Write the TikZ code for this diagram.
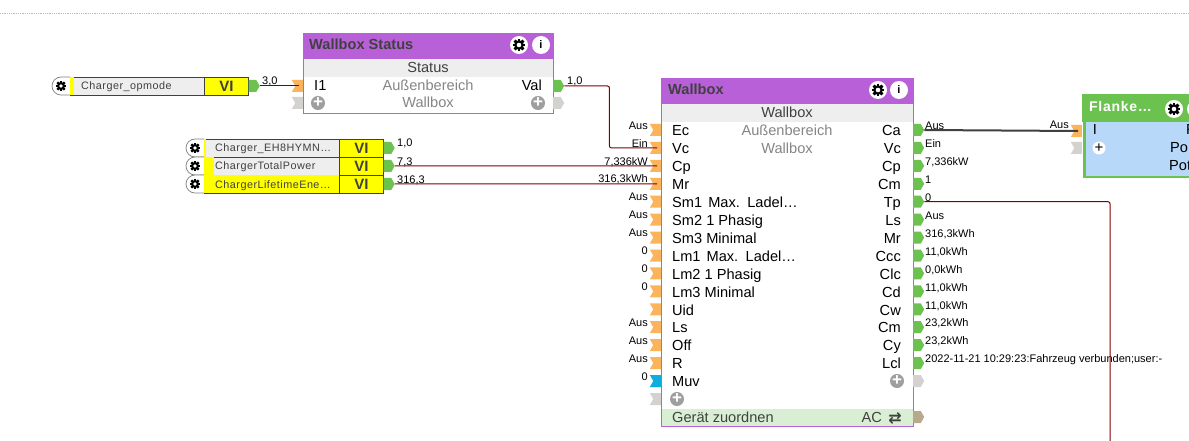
\documentclass[tikz,border=0pt]{standalone}
\usepackage{fontspec}
\setmainfont{Liberation Sans}
\newfontfamily\symfont{DejaVu Sans}
\usetikzlibrary{shapes.symbols,math}
\definecolor{lilac}{HTML}{B860D8}
\definecolor{bandgray}{HTML}{EEEEEE}
\definecolor{pinorange}{HTML}{FBB45C}
\definecolor{pingreen}{HTML}{6CC24F}
\definecolor{pinblue}{HTML}{0BAEDC}
\definecolor{pingray}{HTML}{D3D2CE}
\definecolor{pinbrown}{HTML}{B8A88C}
\definecolor{wirered}{HTML}{800000}
\definecolor{viyellow}{HTML}{FFFF00}
\definecolor{lightgreen}{HTML}{D9EFD4}
\definecolor{lightblue}{HTML}{B8D8FA}
\definecolor{darktext}{HTML}{404040}
\tikzset{
	pinbase/.style={shape=signal, inner sep=0pt, minimum width=11pt, minimum height=12pt, signal pointer angle=120},
	pinin/.style={pinbase, signal to=nowhere, signal from=west, fill=pinorange},
	pinmuv/.style={pinin, fill=pinblue},
	pinspare/.style={pinin, fill=pingray},
	pinout/.style={pinbase, fill=pingreen},
	pinfree/.style={pinout, fill=pingray},
	pinac/.style={pinout, fill=pinbrown},
	wire/.style={draw=wirered, line width=1pt, rounded corners=2pt},
	thickwire/.style={draw=darktext, line width=2pt},
	frame/.style={draw=lilac, fill=white, line width=1pt, inner sep=0pt, anchor=north west},
	titleband/.style={fill=lilac, inner sep=0pt, anchor=north west},
	grayband/.style={fill=bandgray, inner sep=0pt, anchor=north west},
	titletext/.style={inner sep=0pt, anchor=base west, text=darktext, font=\fontsize{14.6}{16}\selectfont\bfseries},
	rowtext/.style={inner sep=0pt, text=black, font=\fontsize{14.6}{16}\selectfont},
	graytext/.style={inner sep=0pt, anchor=base, text=gray!95, font=\fontsize{14.6}{16}\selectfont},
	valtext/.style={inner sep=0pt, text=black, font=\fontsize{11}{12}\selectfont},
	namebox/.style={draw=darktext, fill=bandgray, line width=0.8pt, inner sep=0pt, anchor=west, minimum height=18pt},
	vibox/.style={draw=darktext, fill=viyellow, line width=0.8pt, inner sep=0pt, anchor=west, minimum width=44pt, minimum height=18pt, text=darktext, font=\fontsize{15}{16}\selectfont\bfseries},
	nametext/.style={inner sep=0pt, anchor=base west, text=darktext, font=\fontsize{10.8}{12}\selectfont\addfontfeature{LetterSpace=4.5}},
	iconbtn/.style={circle, fill=white, inner sep=0pt, minimum size=18pt},
	plusbtn/.style={circle, fill=gray!75, inner sep=0pt, minimum size=14pt, text=white, font=\fontsize{17}{17}\selectfont\bfseries},
	gearicon/.pic={
		\foreach \a in {0,45,...,315}{
			\fill[black, rotate=\a] (-1.2,-5.2) rectangle (1.2,0);
		}
		\fill[black] (0,0) circle (4);
		\fill[white] (0,0) circle (1.9);
	},
}
\begin{document}
\begin{tikzpicture}[x=1pt,y=-1pt]
\useasboundingbox (0,0) rectangle (1189,441);
\clip (0,0) rectangle (1189,441);
\fill[white] (0,0) rectangle (1189,441);
\draw[gray!55, densely dotted, line width=0.8pt] (0,13.5) -- (1189,13.5);

% variable blocks
\foreach \vname/\vtext/\vleft/\vstripe/\vright/\vy in {
	varopmode/Charger\_opmode/70/4/204/86,
	vareh/Charger\_EH8HYMN…/204/2/339/148,
	vartotal/ChargerTotalPower/204/10/339/166,
	varlife/ChargerLifetimeEne…/204/135/339/184}{
	\tikzmath{ \vwidth = \vright-\vleft; }
	\draw[gray, fill=white, line width=0.7pt] (\vleft,\vy-9) -- (\vleft-9,\vy-9) arc[start angle=270, end angle=90, radius=9] -- (\vleft,\vy+9);
	\pic at (\vleft-9,\vy) {gearicon};
	\node[namebox, minimum width=\vwidth] (\vname) at (\vleft,\vy) {};
	\fill[viyellow] (\vleft+0.4,\vy-8.6) rectangle (\vleft+\vstripe,\vy+8.6);
	\node[nametext] (\vname text) at (\vleft+11,\vy+4) {\vtext};
	\node[vibox] (\vname vi) at (\vright,\vy) {VI};
	\node[pinout, anchor=west] (\vname pin) at (\vright+44.5,\vy) {};
}
\node[valtext, anchor=base west] (val30) at (262,84.7) {3,0};
\node[valtext, anchor=base west] (val10a) at (397,147) {1,0};
\node[valtext, anchor=base west] (val73) at (397,165) {7,3};
\node[valtext, anchor=base west] (val316) at (397,183) {316,3};

% Wallbox Status
\node[frame, minimum width=250, minimum height=80] (status) at (303,33) {};
\node[titleband, minimum width=250.5, minimum height=26] (statustitle) at (302.5,32.5) {};
\node[grayband, minimum width=249, minimum height=18] (statusband) at (303.5,59) {};
\node[titletext] (statusname) at (309,50) {Wallbox Status};
\node[iconbtn] (statusgear) at (519,45) {};
\pic[scale=1.2] at (statusgear) {gearicon};
\node[iconbtn, font=\fontsize{11}{11}\selectfont\bfseries] (statusinfo) at (541,45) {i};
\node[rowtext, text=darktext, anchor=base] (statuslabel) at (428,72.7) {Status};
\node[rowtext, anchor=base west] (statusin) at (314,91) {I1};
\node[rowtext, anchor=base east] (statusout) at (542,91) {Val};
\node[graytext] (statusarea) at (428,91) {Außenbereich};
\node[graytext] (statusroom) at (428,108) {Wallbox};
\node[plusbtn] (statusplusa) at (318,103) {+};
\node[plusbtn] (statusplusb) at (538,103) {+};
\node[pinin, anchor=east] (statuspini) at (303,86) {};
\node[pinspare, anchor=east] (statuspinj) at (303,103) {};
\node[pinout, anchor=west] (statuspinval) at (553,86) {};
\node[pinfree, anchor=west] (statuspinfree) at (553,103) {};
\node[valtext, anchor=base west] (val10b) at (567,84.7) {1,0};

% Wallbox
\node[frame, minimum width=252, minimum height=348] (wallbox) at (661,78) {};
\node[titleband, minimum width=252.5, minimum height=26] (wallboxtitle) at (660.5,77.5) {};
\node[grayband, minimum width=251, minimum height=18] (wallboxband) at (661.5,104) {};
\node[grayband, fill=lightgreen, minimum width=251, minimum height=17] (wallboxfoot) at (661.5,408.5) {};
\node[titletext] (wallboxname) at (668,95) {Wallbox};
\node[iconbtn] (wallboxgear) at (878,90) {};
\pic[scale=1.2] at (wallboxgear) {gearicon};
\node[iconbtn, font=\fontsize{11}{11}\selectfont\bfseries] (wallboxinfo) at (899,90) {i};
\node[rowtext, text=darktext, anchor=base] (wallboxlabel) at (787,117.7) {Wallbox};
\node[graytext] (wallboxarea) at (787,135.7) {Außenbereich};
\node[graytext] (wallboxroom) at (787,153.7) {Wallbox};
\foreach \ilabel [count=\k from 0] in {Ec,Vc,Cp,Mr,Sm1\hspace{2pt} Max.\hspace{2pt} Ladel…,Sm2 1 Phasig,Sm3 Minimal,Lm1\hspace{2pt} Max.\hspace{2pt} Ladel…,Lm2 1 Phasig,Lm3 Minimal,Uid,Ls,Off,R}{
	\tikzmath{ \rowy = 130+17.93*\k; }
	\node[rowtext, anchor=base west] (inlabel\k) at (672,\rowy+5.7) {\ilabel};
	\node[pinin, anchor=east] (inpin\k) at (661,\rowy) {};
}
\node[rowtext, anchor=base west] (inlabel14) at (672,386.7) {Muv};
\node[pinmuv, anchor=east] (inpin14) at (661,381) {};
\node[pinspare, anchor=east] (inpin15) at (661,399) {};
\node[plusbtn] (wallboxplusa) at (677,399) {+};
\foreach \k/\ival in {0/Aus,1/Ein,2/{7,336kW},3/{316,3kWh},4/Aus,5/Aus,6/Aus,7/0,8/0,9/0,11/Aus,12/Aus,13/Aus,14/0}{
	\tikzmath{ \rowy = 130+17.93*\k; }
	\node[valtext, anchor=base east] (inval\k) at (648,\rowy-0.8) {\ival};
}
\foreach \olabel/\oval [count=\k from 0] in {Ca/Aus,Vc/Ein,Cp/{7,336kW},Cm/1,Tp/0,Ls/Aus,Mr/{316,3kWh},Ccc/{11,0kWh},Clc/{0,0kWh},Cd/{11,0kWh},Cw/{11,0kWh},Cm/{23,2kWh},Cy/{23,2kWh},Lcl/2022-11-21 10:29:23:Fahrzeug verbunden;user:-}{
	\tikzmath{ \rowy = 130+17.93*\k; }
	\node[rowtext, anchor=base east] (outlabel\k) at (901,\rowy+5.7) {\olabel};
	\node[pinout, anchor=west] (outpin\k) at (913,\rowy) {};
	\node[valtext, anchor=base west] (outval\k) at (925,\rowy-0.3) {\oval};
}
\node[plusbtn] (wallboxplusb) at (897,381) {+};
\node[pinfree, anchor=west] (outpinfree) at (913,381) {};
\node[pinac, anchor=west] (outpinac) at (913,417) {};
\node[rowtext, text=darktext, anchor=base west] (footlabel) at (672,422) {Gerät zuordnen};
\node[rowtext, text=darktext, anchor=base east] (footac) at (882,422) {AC};
\node[rowtext, text=darktext, anchor=base east, font=\fontsize{16}{16}\selectfont\symfont\bfseries] (footarrows) at (902,423) {⇄};

% Flanke
\node[frame, draw=pingreen, fill=lightblue, line width=2.5pt, minimum width=130, minimum height=81] (edge) at (1083,95) {};
\node[titleband, fill=pingreen, minimum width=130, minimum height=28] (edgetitle) at (1082,94) {};
\node[titletext, text=white, font=\fontsize{14}{16}\selectfont\bfseries\addfontfeature{LetterSpace=5}] (edgename) at (1089,112) {Flanke…};
\node[iconbtn] (edgegear) at (1174,109) {};
\pic[scale=1.2] at (edgegear) {gearicon};
\node[iconbtn] (edgeinfo) at (1196,109) {};
\node[rowtext, anchor=base] (edgein) at (1095,135) {I};
\node[circle, fill=white, inner sep=0pt, minimum size=13pt, font=\fontsize{15}{15}\selectfont] (edgeplus) at (1099,148) {+};
\node[rowtext, anchor=base west] (edgeouta) at (1186,135) {F};
\node[rowtext, anchor=base west] (edgeoutb) at (1170,153) {Po};
\node[rowtext, anchor=base west] (edgeoutc) at (1169,171) {Pot};
\node[pinin, anchor=east] (edgepini) at (1082,131) {};
\node[pinspare, anchor=east] (edgepinj) at (1082,148) {};
\node[valtext, anchor=base east] (edgeval) at (1069,128.5) {Aus};

% connectors
\coordinate (tpdrop) at (1110,441);
\draw[wire] (varopmodepin.east) -- (statuspini.center);
\draw[wire] (statuspinval.east) -- ++(45,0) |- (inpin1.center);
\draw[wire] (vartotalpin.east) -- (inpin2.center);
\draw[wire] (varlifepin.east) -- (inpin3.center);
\draw[thickwire] (outpin0.east) -- (edgepini.center);
\draw[wire] (outpin4.east) -| (tpdrop);
\end{tikzpicture}
\end{document}
